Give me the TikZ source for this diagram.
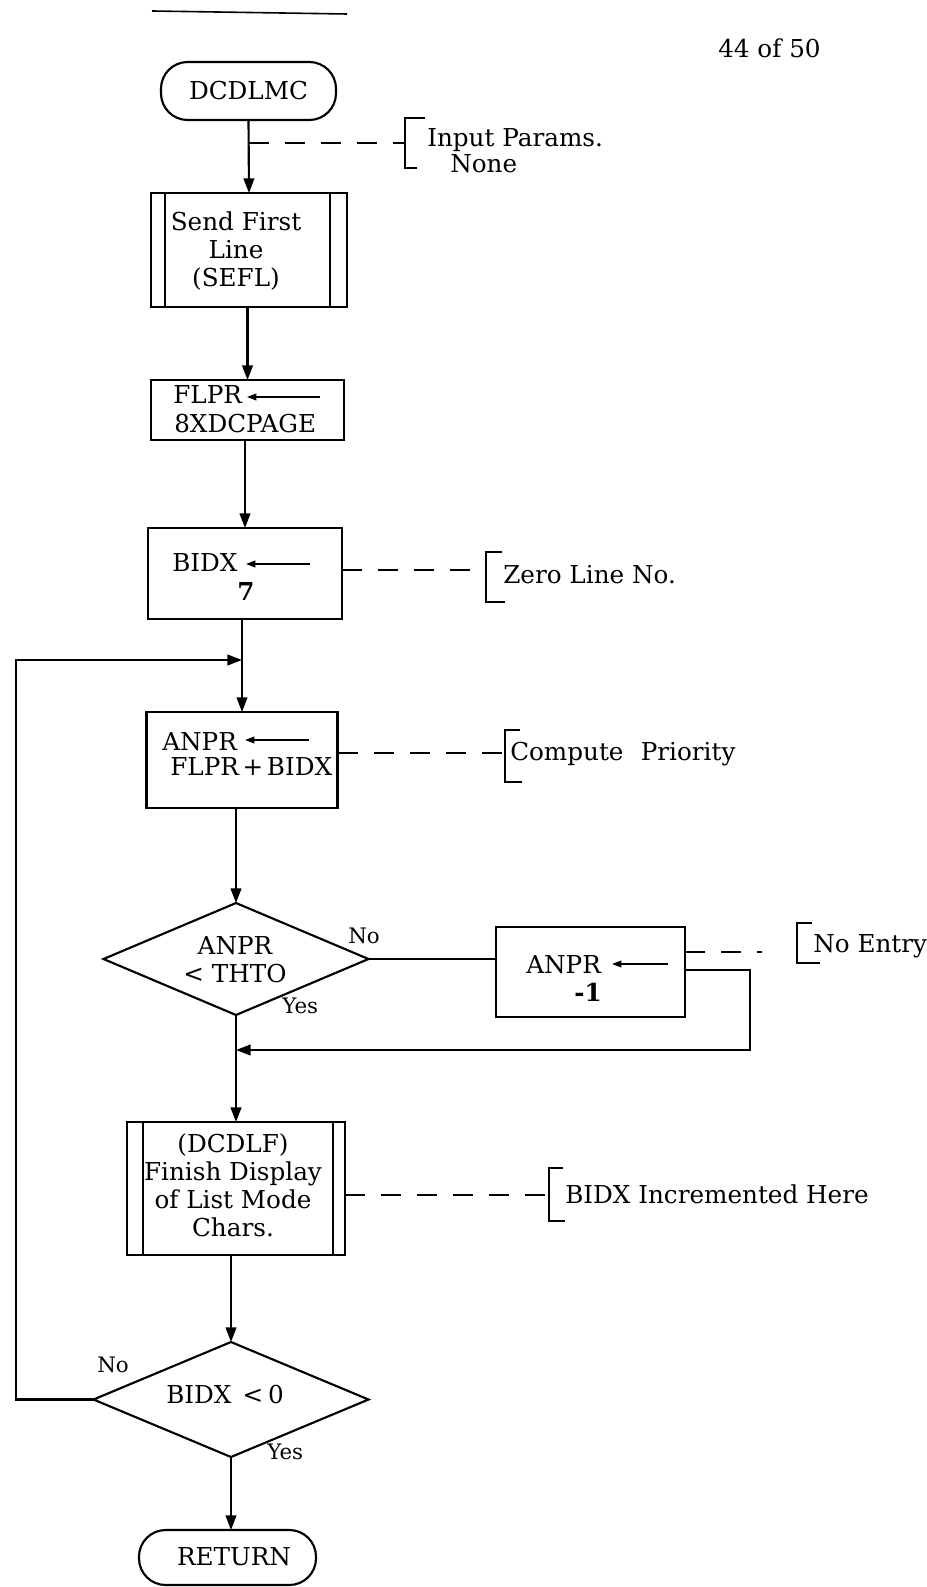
\documentclass[tikz,border=0pt]{standalone}
\usepackage{fontspec}
\setmainfont{DejaVu Serif}
\usetikzlibrary{arrows.meta,shapes.geometric}
\newcommand\fs{\fontsize{18.5pt}{21pt}\selectfont}
\newcommand\fss{\fontsize{16pt}{19pt}\selectfont}
\begin{document}
\begin{tikzpicture}[x=0.75pt, y=-0.75pt,
  ln/.style={line width=1.6pt},
  box/.style={draw, line width=1.6pt, rectangle, inner sep=0pt, outer sep=0pt},
  term/.style={box, rounded corners=20pt, font=\fs},
  dia/.style={draw, line width=1.6pt, diamond, inner sep=0pt, outer sep=0pt},
  arr/.style={line width=1.6pt, -{Triangle[length=11pt,width=8pt]}},
  sarr/.style={line width=1.2pt, -{Triangle[length=7pt,width=5pt]}},
  dsh/.style={line width=1.2pt, dash pattern=on 15pt off 12pt},
  brk/.style={line width=1.4pt},
  lbl/.style={anchor=base west, inner sep=0pt, font=\fs},
  lblc/.style={anchor=base, inner sep=0pt, font=\fs},
  sm/.style={anchor=base west, inner sep=0pt, font=\fss},
  txt/.style={align=center, inner sep=0pt, font=\fs}]
\fill[white] (0,0) rectangle (927,1587);
\useasboundingbox (0,0) rectangle (927,1587);

% top rule and page number
\draw[line width=1.2pt] (152,11) -- (347,14);
\node[lbl] (page) at (718,58) {44 of 50};

% start
\node[term, minimum width=131.25pt, minimum height=43.5pt] (dcdlmc) at (248.5,91) {DCDLMC};

% Send First Line
\node[box, minimum width=147pt, minimum height=85.5pt] (sefl) at (249,250) {};
\draw[ln] ([xshift=10.5pt]sefl.north west) -- ([xshift=10.5pt]sefl.south west);
\draw[ln] ([xshift=-12.75pt]sefl.north east) -- ([xshift=-12.75pt]sefl.south east);
\node[txt] (seflt) at (236,251) {Send First\\Line\\(SEFL)};

\draw[arr] (dcdlmc.south) -- (sefl.north);
\coordinate (b1) at (405,143);
\draw[dsh] (dcdlmc.south |- b1) -- (b1);
\draw[brk] (425,118) -- (405,118) -- (405,168) -- (417,168);
\node[lbl] (inp) at (427,147) {Input Params.};
\node[lbl] (none) at (450,173) {None};

% FLPR box
\node[box, minimum width=144.75pt, minimum height=45pt] (flpr) at (247.5,410) {};
\node[lbl] (flpra) at (173,403) {FLPR};
\draw[sarr] (320,397) -- (247,397);
\node[lbl] (flprb) at (174,432) {8XDCPAGE};
\draw[arr] (sefl.south -| flpr.north) -- (flpr.north);

% BIDX box
\node[box, minimum width=145.5pt, minimum height=68.25pt] (bidx) at (245,573.5) {};
\node[lbl] (bidxa) at (172,571) {BIDX};
\draw[sarr] (310,564) -- (246,564);
\node[lblc] (bidxb) at (246,600) {\bfseries 7};
\draw[arr] (flpr.south -| bidx.north) -- (bidx.north);
\coordinate (b2) at (486,570);
\draw[dsh] (bidx.east |- b2) -- (b2);
\draw[brk] (502,552) -- (486,552) -- (486,602) -- (505,602);
\node[lbl] (zero) at (503,583) {Zero Line No.};

% ANPR box
\node[box, minimum width=143.25pt, minimum height=72pt] (anpr) at (242,760) {};
\node[lbl] (anpra) at (162,750) {ANPR};
\draw[sarr] (309,740) -- (245,740);
\node[lbl] (anprb) at (170,775) {FLPR\hspace{0.15em}+\hspace{0.15em}BIDX};
\draw[arr] (bidx.south -| anpr.north) -- (anpr.north);
\coordinate (b3) at (505,753);
\draw[dsh] (anpr.east |- b3) -- (b3);
\draw[brk] (520,730) -- (505,730) -- (505,782) -- (522,782);
\node[lbl] (comp) at (510,760) {Compute\hspace{0.7em}Priority};

% decision 1
\node[dia, minimum width=198.75pt, minimum height=84pt] (d1) at (236,959) {};
\node[txt] (d1t) at (235,960) {ANPR\\< THTO};
\node[sm] (d1no) at (348,943) {No};
\node[sm] (d1yes) at (282,1013) {Yes};
\draw[arr] (anpr.south -| d1.north) -- (d1.north);

% ANPR -1 box
\node[box, minimum width=141.75pt, minimum height=67.5pt] (anpr1) at (590.5,972) {};
\node[lbl] (anpr1a) at (526,973) {ANPR};
\draw[sarr] (668,964) -- (612,964);
\node[lblc] (anpr1b) at (588,1001) {\bfseries -1};
\draw[ln] (d1.east) -- (d1.east -| anpr1.west);
\coordinate (b4) at (762,952);
\draw[dsh] (anpr1.east |- b4) -- (b4);
\draw[brk] (812,923) -- (797,923) -- (797,963) -- (820,963);
\node[lbl] (noent) at (813,952) {No Entry};
\coordinate (r1) at (750,970);
\coordinate (r2) at (750,1050);
\draw[arr] (anpr1.east |- r1) -- (r1) -- (r2) -- (d1.south |- r2);

% DCDLF box
\node[box, minimum width=163.5pt, minimum height=99.75pt] (dcdlf) at (236,1188.5) {};
\draw[ln] ([xshift=12pt]dcdlf.north west) -- ([xshift=12pt]dcdlf.south west);
\draw[ln] ([xshift=-9pt]dcdlf.north east) -- ([xshift=-9pt]dcdlf.south east);
\node[txt] (dcdlft) at (233,1185.5) {(DCDLF)\\Finish Display\\of List Mode\\Chars.};
\draw[arr] (d1.south) -- (dcdlf.north);
\coordinate (b5) at (549,1195);
\draw[dsh] (dcdlf.east |- b5) -- (b5);
\draw[brk] (563,1168) -- (549,1168) -- (549,1221) -- (565,1221);
\node[lbl] (incr) at (565,1203) {BIDX Incremented Here};

% decision 2
\node[dia, minimum width=206.25pt, minimum height=86.25pt] (d2) at (231,1399.5) {};
\node[lbl] (d2t) at (166,1403) {BIDX\hspace{0.45em}<\hspace{0.2em}0};
\node[sm] (d2no) at (97,1372) {No};
\node[sm] (d2yes) at (267,1459) {Yes};
\draw[arr] (dcdlf.south -| d2.north) -- (d2.north);

% loop back
\coordinate (lp) at (16,660);
\draw[arr] (d2.west) -- (lp |- d2.west) -- (lp) -- (anpr.north |- lp);

% end
\node[box, rounded corners=20pt, minimum width=132.75pt, minimum height=41.25pt] (ret) at (227.5,1557.5) {};
\node[lbl, anchor=base] (rett) at (234,1565) {RETURN};
\draw[arr] (d2.south) -- (d2.south |- ret.north);
\end{tikzpicture}
\end{document}
